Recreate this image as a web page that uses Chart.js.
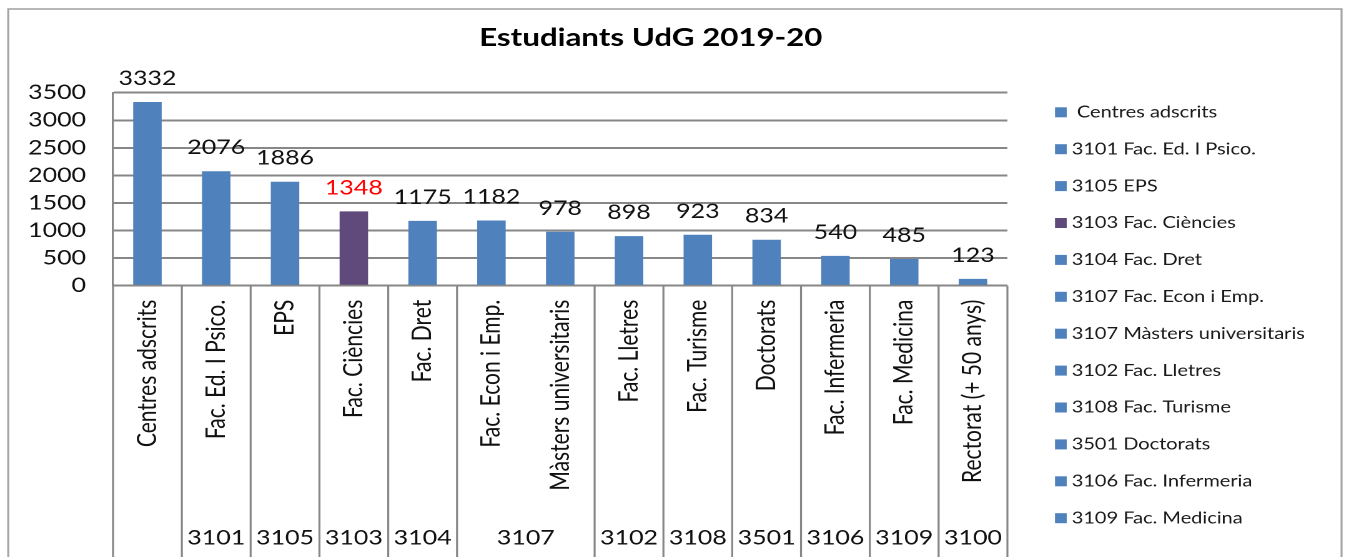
<!DOCTYPE html>
<html lang="ca">
<head>
    <meta charset="UTF-8">
    <title>Estudiants UdG 2019-20</title>
    <style>
        body {
            margin: 0;
            background: #fff;
            overflow: hidden;
        }

        /* the source chart is a horizontally stretched Excel image */
        #wrap {
            width: 1080px;
            height: 557px;
            transform: scaleX(1.2491);
            transform-origin: 0 0;
        }
    </style>
    <script src="https://cdn.jsdelivr.net/npm/chart.js"></script>
</head>
<body>
    <div id="wrap">
        <canvas id="chart1" width="1080" height="557"></canvas>
    </div>
    <script>
        // Data
        const categories = ['Centres adscrits', 'Fac. Ed. I Psico.', 'EPS', 'Fac. Ciències', 'Fac. Dret',
            'Fac. Econ i Emp.', 'Màsters universitaris', 'Fac. Lletres', 'Fac. Turisme', 'Doctorats',
            'Fac. Infermeria', 'Fac. Medicina', 'Rectorat (+ 50 anys)'];
        const values = [3332, 2076, 1886, 1348, 1175, 1182, 978, 898, 923, 834, 540, 485, 123];
        const codes = ['', '3101', '3105', '3103', '3104', '3107', '3107', '3102', '3108', '3501', '3106', '3109', '3100'];
        const legendLabels = [' Centres adscrits', '3101 Fac. Ed. I Psico.', '3105 EPS', '3103 Fac. Ciències',
            '3104 Fac. Dret', '3107 Fac. Econ i Emp.', '3107 Màsters universitaris', '3102 Fac. Lletres',
            '3108 Fac. Turisme', '3501 Doctorats', '3106 Fac. Infermeria', '3109 Fac. Medicina'];
        const highlight = 'Fac. Ciències';
        const chartTitle = 'Estudiants UdG 2019-20';

        const BLUE = '#4f81bd';
        const PURPLE = '#604a7b';
        const GRID = '#878787';
        const FONT = 'Lato, "Open Sans", sans-serif';

        const barColors = categories.map(c => c === highlight ? PURPLE : BLUE);

        // draws frame, title, value labels, two-level x axis and legend
        const decorPlugin = {
            id: 'decor',
            beforeDraw(chart) {
                const ctx = chart.ctx;
                ctx.save();
                ctx.fillStyle = '#fff';
                ctx.fillRect(0, 0, chart.width, chart.height);
                ctx.strokeStyle = '#a6a6a6';
                ctx.lineWidth = 1.6;
                ctx.strokeRect(6.6, 9, 1074 - 6.6, 700);
                ctx.restore();
            },
            afterDraw(chart) {
                const ctx = chart.ctx;
                const xs = chart.scales.x;
                const area = chart.chartArea;
                const meta = chart.getDatasetMeta(0);
                ctx.save();

                // title
                ctx.fillStyle = '#000';
                ctx.font = 'bold 25px ' + FONT;
                ctx.textAlign = 'center';
                ctx.textBaseline = 'middle';
                ctx.fillText(chartTitle, 521, 38);

                // value labels
                ctx.font = '20px ' + FONT;
                ctx.textBaseline = 'alphabetic';
                meta.data.forEach((bar, i) => {
                    ctx.fillStyle = categories[i] === highlight ? '#ff0000' : '#111';
                    ctx.fillText(String(values[i]), bar.x, bar.y - 17);
                });

                // rotated category names
                ctx.fillStyle = '#111';
                ctx.font = '21px ' + FONT;
                categories.forEach((c, i) => {
                    ctx.save();
                    ctx.translate(xs.getPixelForValue(i), area.bottom + 14);
                    ctx.rotate(-Math.PI / 2);
                    ctx.textAlign = 'right';
                    ctx.textBaseline = 'middle';
                    ctx.fillText(c, 0, 0);
                    ctx.restore();
                });

                // group separators and codes
                const step = (xs.right - xs.left) / categories.length;
                ctx.strokeStyle = GRID;
                ctx.lineWidth = 1.6;
                ctx.font = '20px ' + FONT;
                ctx.textAlign = 'center';
                ctx.textBaseline = 'middle';
                let start = 0;
                for (let i = 1; i <= categories.length; i++) {
                    if (i === categories.length || codes[i] !== codes[start]) {
                        const x0 = xs.left + start * step;
                        const x1 = xs.left + i * step;
                        ctx.beginPath();
                        ctx.moveTo(x0, area.bottom);
                        ctx.lineTo(x0, chart.height);
                        ctx.stroke();
                        if (codes[start]) {
                            ctx.fillText(codes[start], (x0 + x1) / 2, 538);
                        }
                        start = i;
                    }
                }
                ctx.beginPath();
                ctx.moveTo(xs.right, area.bottom);
                ctx.lineTo(xs.right, chart.height);
                ctx.stroke();

                // legend
                ctx.font = '16px ' + FONT;
                ctx.textAlign = 'left';
                legendLabels.forEach((lab, i) => {
                    const y = 112.3 + i * 36.9;
                    ctx.fillStyle = i === 3 ? PURPLE : BLUE;
                    ctx.fillRect(844.6, y - 5, 9.4, 10);
                    ctx.fillStyle = '#1a1a1a';
                    ctx.fillText(lab, 858, y);
                });

                ctx.restore();
            }
        };

        const ctx = document.getElementById('chart1').getContext('2d');
        const chart1 = new Chart(ctx, {
            type: 'bar',
            data: {
                labels: categories,
                datasets: [{
                    data: values,
                    backgroundColor: barColors,
                    borderWidth: 0,
                    categoryPercentage: 1,
                    barPercentage: 0.414
                }]
            },
            options: {
                responsive: false,
                animation: false,
                devicePixelRatio: 2,
                layout: {
                    padding: { left: 0, top: 92.7, right: 273.5, bottom: 0 }
                },
                plugins: {
                    legend: { display: false },
                    tooltip: { enabled: false },
                    title: { display: false }
                },
                scales: {
                    x: {
                        ticks: { display: false },
                        grid: { display: false },
                        border: { display: false },
                        afterFit: s => { s.height = 557 - 285.7; }
                    },
                    y: {
                        min: 0,
                        max: 3500,
                        ticks: {
                            stepSize: 500,
                            padding: 21.6,
                            color: '#111',
                            font: { family: FONT, size: 20 },
                            callback: v => String(v)
                        },
                        grid: { color: GRID, lineWidth: 2, drawTicks: false },
                        border: { display: true, color: GRID, width: 1.6 },
                        afterFit: s => { s.width = 90.5; }
                    }
                }
            },
            plugins: [decorPlugin]
        });
    </script>
</body>
</html>
